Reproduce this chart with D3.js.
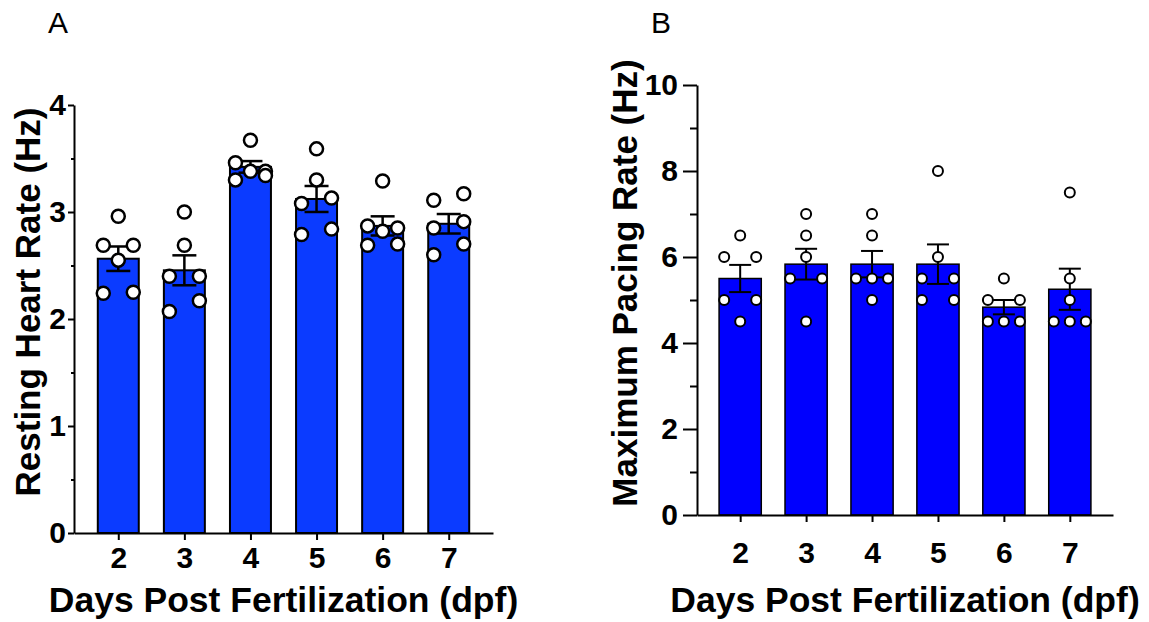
<!DOCTYPE html>
<html>
<head>
<meta charset="utf-8">
<script src="https://cdn.jsdelivr.net/npm/d3@7"></script>
<style>
  body { margin: 0; background: #fff; }
  text { font-family: "Liberation Sans", Arial, sans-serif; }
</style>
</head>
<body>
<div id="graphId"></div>
<script>
// days post fertilization
var days = ["2", "3", "4", "5", "6", "7"];

// panel A: resting heart rate (Hz), one array per day
var restingRate = [
    [2.96, 2.69, 2.69, 2.55, 2.25, 2.24],
    [3.00, 2.69, 2.40, 2.40, 2.17, 2.07],
    [3.67, 3.46, 3.38, 3.38, 3.34, 3.30],
    [3.59, 3.30, 3.13, 3.08, 2.84, 2.79],
    [3.29, 2.87, 2.85, 2.82, 2.70, 2.69],
    [3.17, 3.11, 2.91, 2.85, 2.70, 2.60]
];

// panel B: maximum pacing rate (Hz)
var pacingRate = [
    [6.5, 6.0, 6.0, 5.0, 5.0, 4.5],
    [7.0, 6.5, 6.0, 5.5, 5.5, 4.5],
    [7.0, 6.5, 5.5, 5.5, 5.5, 5.0],
    [8.0, 6.0, 5.5, 5.5, 5.0, 5.0],
    [5.5, 5.0, 5.0, 4.5, 4.5, 4.5],
    [7.5, 5.5, 5.0, 4.5, 4.5, 4.5]
];

var ticksA = [0, 1, 2, 3, 4];
var minorA = [0.5, 1.5, 2.5, 3.5];
var ticksB = [0, 2, 4, 6, 8, 10];
var minorB = [1, 3, 5, 7, 9];

var wt = 1149;
var ht = 622;
var font = '"Liberation Sans", Arial, sans-serif';

var svg = d3.select("#graphId").append("svg")
    .attr("width", wt)
    .attr("height", ht);

// put points of a column into rows, rows spread around the centre
function swarm(vals, y, rowH, step) {
    var pts = vals.map(function (v) {
        return { v: v, py: y(v) };
    }).sort(function (a, b) { return a.py - b.py; });
    var rows = [];
    pts.forEach(function (p) {
        var last = rows[rows.length - 1];
        if (last && p.py - last[0].py < rowH) last.push(p);
        else rows.push([p]);
    });
    rows.forEach(function (row) {
        var n = row.length, offs;
        if (n === 1) offs = [0];
        else if (n === 2) offs = [step, -step];
        else if (n === 3) offs = [-step, step, 0];
        else offs = row.map(function (d, i) { return (i - (n - 1) / 2) * step; });
        row.forEach(function (p, i) { p.dx = offs[i]; });
    });
    return pts;
}

function drawPanel(o) {
    var g = svg.append("g");

    var x = d3.scalePoint()
        .domain(days)
        .range([o.left, o.right])
        .padding(o.pad);

    var y = d3.scaleLinear()
        .domain([0, o.max])
        .range([o.bottom, o.top]);

    var barW = x.step() * o.barFrac;

    var stats = o.data.map(function (vals, i) {
        var m = d3.mean(vals);
        var sem = d3.deviation(vals) / Math.sqrt(vals.length);
        return { day: days[i], vals: vals, mean: m, sem: sem };
    });

    // bars
    g.selectAll("rect.bar")
        .data(stats)
        .enter().append("rect")
        .attr("class", "bar")
        .attr("x", function (d) { return x(d.day) - barW / 2; })
        .attr("width", barW)
        .attr("y", function (d) { return y(d.mean); })
        .attr("height", function (d) { return y(0) - y(d.mean); })
        .attr("fill", o.color)
        .attr("stroke", "#000")
        .attr("stroke-width", o.barStroke);

    // error bars (mean +/- SEM)
    var eb = g.selectAll("g.err")
        .data(stats)
        .enter().append("g")
        .attr("class", "err")
        .attr("stroke", "#000")
        .attr("stroke-width", o.errStroke);
    eb.append("line")
        .attr("x1", function (d) { return x(d.day); })
        .attr("x2", function (d) { return x(d.day); })
        .attr("y1", function (d) { return y(d.mean + d.sem); })
        .attr("y2", function (d) { return y(d.mean - d.sem); });
    [1, -1].forEach(function (s) {
        eb.append("line")
            .attr("x1", function (d) { return x(d.day) - o.cap; })
            .attr("x2", function (d) { return x(d.day) + o.cap; })
            .attr("y1", function (d) { return y(d.mean + s * d.sem); })
            .attr("y2", function (d) { return y(d.mean + s * d.sem); });
    });

    // individual points
    stats.forEach(function (d) {
        var pts = swarm(d.vals, y, o.rowH, o.spread);
        g.selectAll(null)
            .data(pts)
            .enter().append("circle")
            .attr("cx", function (p) { return x(d.day) + p.dx; })
            .attr("cy", function (p) { return p.py; })
            .attr("r", o.r)
            .attr("fill", "#fff")
            .attr("stroke", "#000")
            .attr("stroke-width", o.ptStroke);
    });

    // axes
    g.append("g")
        .attr("transform", "translate(" + o.left + ",0)")
        .call(d3.axisLeft(y).tickValues(o.ticks).tickFormat(d3.format("d"))
            .tickSize(o.tickY).tickSizeOuter(0).tickPadding(o.padY));
    g.append("g")
        .attr("transform", "translate(" + o.left + ",0)")
        .call(d3.axisLeft(y).tickValues(o.minor).tickSize(o.tickY / 2).tickFormat(""))
        .select(".domain").remove();

    g.append("g")
        .attr("transform", "translate(0," + o.bottom + ")")
        .call(d3.axisBottom(x).tickSize(7).tickSizeOuter(0).tickPadding(o.padX));

    g.selectAll(".domain, .tick line")
        .attr("stroke", "#000")
        .attr("stroke-width", 2);
    g.selectAll(".tick text")
        .attr("font-family", font)
        .attr("font-weight", "bold")
        .attr("font-size", 30)
        .attr("fill", "#000");

    // titles
    g.append("text")
        .attr("x", (o.left + o.right) / 2)
        .attr("y", 612)
        .attr("text-anchor", "middle")
        .attr("font-weight", "bold")
        .attr("font-size", 35.5)
        .text("Days Post Fertilization (dpf)");

    g.append("text")
        .attr("transform", "translate(" + o.yTitleX + "," + o.yTitleY + ") rotate(-90)")
        .attr("text-anchor", "middle")
        .attr("font-weight", "bold")
        .attr("font-size", 35)
        .text(o.yTitle);

    g.append("text")
        .attr("x", o.tagX)
        .attr("y", 33)
        .attr("font-size", 30)
        .text(o.tag);
}

drawPanel({
    data: restingRate, max: 4, ticks: ticksA, minor: minorA,
    left: 74, right: 493, top: 105, bottom: 533, pad: 0.67, barFrac: 0.62,
    color: "#0b3bff", barStroke: 2, errStroke: 2.5, cap: 12,
    r: 6.5, ptStroke: 2.5, rowH: 12, spread: 15,
    tickY: 6, padY: 2, padX: 7,
    yTitle: "Resting Heart Rate (Hz)", yTitleX: 40, yTitleY: 302,
    tag: "A", tagX: 48
});

drawPanel({
    data: pacingRate, max: 10, ticks: ticksB, minor: minorB,
    left: 697, right: 1113, top: 85, bottom: 515, pad: 0.655, barFrac: 0.64,
    color: "#0000fe", barStroke: 1.5, errStroke: 2, cap: 11,
    r: 5, ptStroke: 2, rowH: 12, spread: 16,
    tickY: 14, padY: 5, padX: 20,
    yTitle: "Maximum Pacing Rate (Hz)", yTitleX: 637, yTitleY: 283,
    tag: "B", tagX: 651
});
</script>
</body>
</html>
